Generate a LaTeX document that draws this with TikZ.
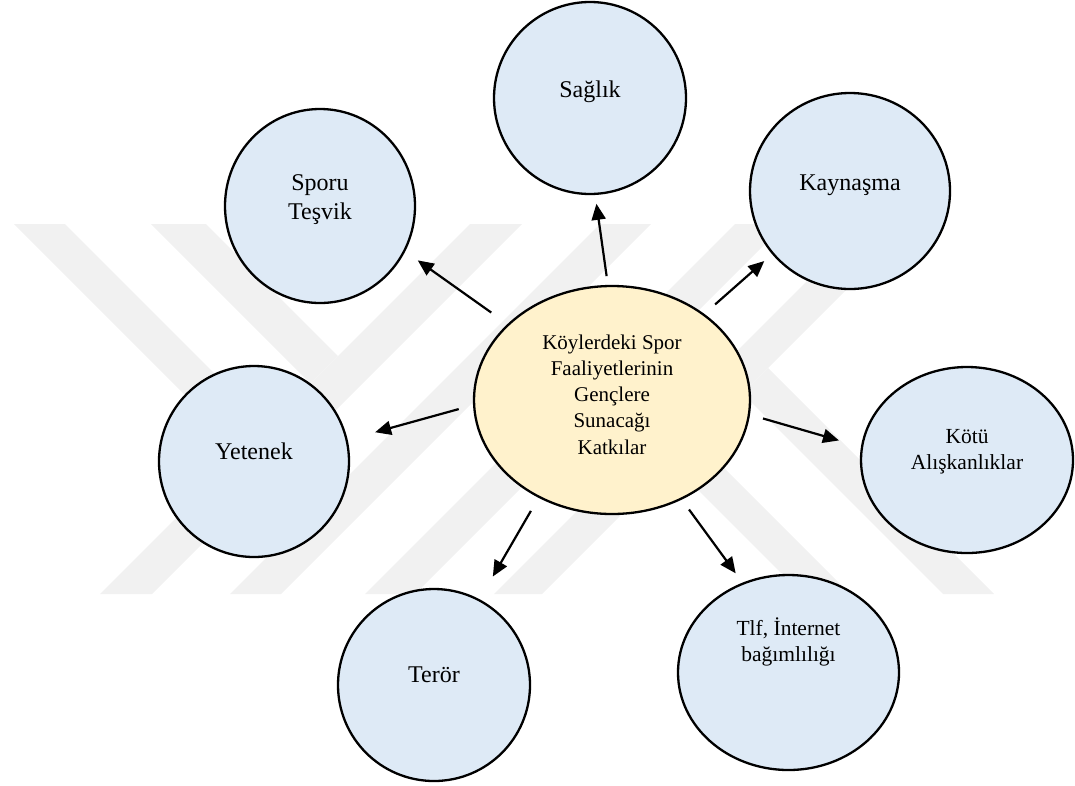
\documentclass[tikz,border=0pt]{standalone}
\usepackage{fontspec}
\setmainfont{Liberation Serif}
\usepackage{xcolor}
\usetikzlibrary{shapes.geometric, arrows.meta}

\definecolor{bubbleblue}{HTML}{DEEAF6}
\definecolor{bubbleyellow}{HTML}{FFF2CC}
\definecolor{markgray}{HTML}{F1F1F1}

\begin{document}
\begin{tikzpicture}[x=1pt, y=-1pt,
		bubble/.style={ellipse, draw, line width=2.3pt, fill=bubbleblue, inner sep=0pt, outer sep=0pt},
		bigtxt/.style={font=\fontsize{24}{29}\selectfont, align=center},
		smalltxt/.style={font=\fontsize{21.5}{26}\selectfont, align=center},
		arrow/.style={line width=2.2pt, -{Triangle[length=16pt, width=14pt]}}]

	\useasboundingbox (0,0) rectangle (1075,785);

	% watermark in the background
	\begin{scope}[fill=markgray]
		\fill (14,224) -- (65,224) -- (332.5,491.5) -- (307,517) -- cycle;
		\fill (230,594) -- (281,594) -- (651,224) -- (600,224) -- cycle;
		\fill (151,224) -- (206,224) -- (338,356) -- (310.5,383.5) -- cycle;
		\fill (100,594) -- (152,594) -- (522,224) -- (470,224) -- cycle;
		\fill (365,594) -- (415,594) -- (785,224) -- (735,224) -- cycle;
		\fill (608.5,400.5) -- (632.5,376.5) -- (850,594) -- (802,594) -- cycle;
		\fill (494,594) -- (542,594) -- (912,224) -- (864,224) -- cycle;
		\fill (742.5,393.5) -- (768,368) -- (994,594) -- (943,594) -- cycle;
	\end{scope}

	\node [bubble, fill=bubbleyellow, minimum width=276pt, minimum height=228pt,
		label={[smalltxt, font=\fontsize{21}{26.3}\selectfont, yshift=5.5pt]center:{Köylerdeki Spor\\Faaliyetlerinin\\Gençlere\\Sunacağı\\Katkılar}}] (hub) at (612,400) {};

	\node [bubble, minimum width=192pt, minimum height=192pt, label={[bigtxt, yshift=6.6pt]center:Sağlık}] (saglik) at (590,98) {};
	\node [bubble, minimum width=190pt, minimum height=194pt, label={[bigtxt, yshift=6pt]center:{Sporu\\Teşvik}}] (tesvik) at (320,206) {};
	\node [bubble, minimum width=200pt, minimum height=196pt, label={[bigtxt, yshift=5.9pt]center:Kaynaşma}] (kaynasma) at (850,191) {};
	\node [bubble, minimum width=190pt, minimum height=191pt, label={[bigtxt, yshift=10.7pt]center:Yetenek}] (yetenek) at (254,461.5) {};
	\node [bubble, minimum width=212pt, minimum height=186pt, label={[smalltxt, yshift=8.6pt]center:{Kötü\\Alışkanlıklar}}] (kotu) at (967,460) {};
	\node [bubble, minimum width=192pt, minimum height=192pt, label={[bigtxt, yshift=10.3pt]center:Terör}] (teror) at (434,685) {};
	\node [bubble, minimum width=221pt, minimum height=195pt, label={[smalltxt, yshift=30.7pt]center:{Tlf, İnternet\\bağımlılığı}}] (tlf) at (788.5,672.5) {};

	\draw [arrow, shorten <=21pt, shorten >=16.5pt] (hub.144.8) -- (tesvik.-28.7);
	\draw [arrow, shorten <=10pt, shorten >=10pt] (hub.92.8) -- (saglik.-87.2);
	\draw [arrow, shorten <=15.5pt, shorten >=11.5pt] (hub.43.6) -- (kaynasma.-141.5);
	\draw [arrow, shorten <=16pt, shorten >=29.6pt] (hub.182) -- (yetenek.13.4);
	\draw [arrow, shorten <=14.7pt, shorten >=24pt] (hub.-6.1) -- (kotu.173.4);
	\draw [arrow, shorten <=16.3pt, shorten >=27.4pt] (hub.-127.7) -- (teror.62.8);
	\draw [arrow, shorten <=13.4pt, shorten >=12.7pt] (hub.-55.8) -- (tlf.117.7);
\end{tikzpicture}
\end{document}
